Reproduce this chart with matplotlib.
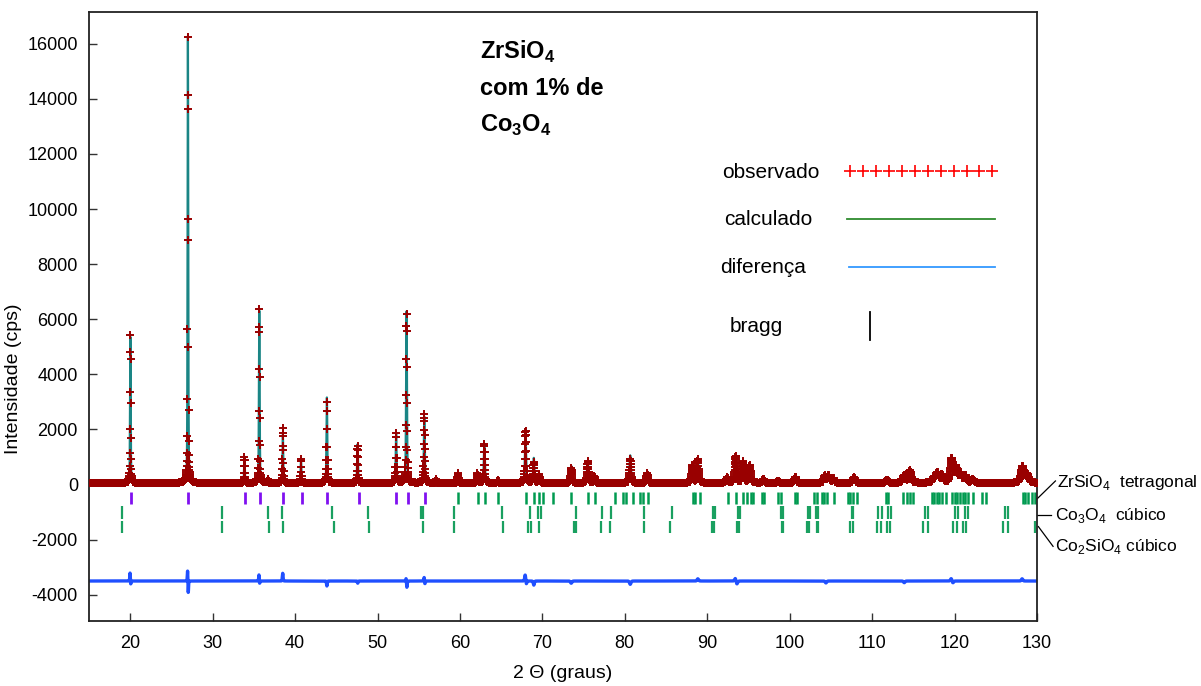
import numpy as np
import matplotlib.pyplot as plt

plt.rcParams['font.family'] = ['Liberation Sans', 'DejaVu Sans']
plt.rcParams['mathtext.fontset'] = 'custom'
plt.rcParams['mathtext.rm'] = 'Liberation Sans'
plt.rcParams['mathtext.bf'] = 'Liberation Sans:bold'
plt.rcParams['axes.unicode_minus'] = False

# picos do ajuste: posição (2θ), altura (cps), largura a meia altura (graus)
pico_pos = [20.02, 27.00, 33.86, 35.66, 36.70, 38.52, 40.72, 43.86, 47.58, 52.26,
            53.52, 55.68, 57.10, 59.76, 62.10, 62.96, 64.60, 67.96, 68.96, 69.60,
            73.50, 75.50, 76.30, 80.66, 82.70, 88.20, 88.86, 92.40, 93.46, 94.36,
            95.16, 96.80, 98.60, 100.70, 104.30, 104.70, 105.30, 107.80, 111.80, 113.90,
            114.60, 117.50, 117.90, 118.46, 119.66, 120.16, 120.70, 121.30, 122.20, 128.26,
            128.80]
pico_alt = [5300, 16220, 950, 6250, 150, 1750, 880, 3100, 1400, 1800,
            6220, 2400, 120, 350, 350, 1400, 120, 1750, 900, 300,
            620, 780, 250, 1000, 350, 620, 780, 200, 900, 760,
            650, 150, 80, 200, 280, 250, 150, 200, 120, 330,
            470, 200, 350, 300, 800, 550, 350, 250, 120, 520,
            300]
pico_fwhm = [0.09, 0.09, 0.10, 0.10, 0.12, 0.10, 0.11, 0.11, 0.12, 0.12,
             0.12, 0.13, 0.14, 0.15, 0.15, 0.15, 0.16, 0.17, 0.17, 0.18,
             0.19, 0.20, 0.20, 0.21, 0.22, 0.24, 0.24, 0.26, 0.26, 0.26,
             0.27, 0.28, 0.28, 0.30, 0.32, 0.32, 0.32, 0.33, 0.35, 0.36,
             0.36, 0.38, 0.38, 0.38, 0.38, 0.38, 0.40, 0.40, 0.40, 0.45,
             0.45]
fundo = 60

# diferenças observado - calculado
dif_pos = [19.98, 20.06, 26.96, 27.04, 35.62, 35.70, 38.50, 43.86, 47.60, 53.48,
           53.56, 55.66, 55.74, 67.92, 68.04, 68.96, 73.50, 80.66, 88.86, 93.40,
           93.60, 104.40, 113.90, 119.60, 119.80, 128.20]
dif_amp = [300, -130, 400, -450, 230, -100, 280, -180, -80, 120,
           -250, 150, -120, 240, -130, -150, -80, -120, 80, 100,
           -110, -70, -60, 90, -70, 80]
dif_fwhm = [0.08, 0.08, 0.08, 0.08, 0.08, 0.08, 0.10, 0.10, 0.10, 0.10,
            0.10, 0.10, 0.10, 0.15, 0.15, 0.15, 0.20, 0.20, 0.20, 0.20,
            0.20, 0.20, 0.20, 0.20, 0.20, 0.20]
dif_offset = -3500

# posições de Bragg das três fases
bragg_zrsio4 = [20.10, 27.05, 33.93, 35.71, 38.57, 40.81, 43.91, 47.72, 52.28, 53.66,
                55.73, 59.80, 62.16, 63.04, 64.66, 68.02, 68.99, 69.63, 70.04, 71.26,
                73.48, 75.50, 76.39, 78.81, 79.82, 80.11, 81.04, 81.85, 82.25, 82.78,
                88.24, 88.52, 89.13, 92.49, 93.49, 94.38, 94.79, 95.27, 95.51, 96.61,
                96.93, 98.63, 98.95, 100.65, 100.86, 102.99, 103.28, 103.89, 104.21, 104.50,
                105.42, 107.05, 107.32, 107.72, 108.13, 111.69, 111.97, 113.79, 114.20, 114.60,
                115.00, 117.23, 117.51, 117.84, 118.16, 118.45, 118.97, 119.66, 120.06, 120.34,
                120.67, 120.99, 121.27, 121.68, 122.28, 123.30, 123.82, 128.27, 128.55, 128.95,
                129.37, 129.76]
bragg_co3o4 = [18.97, 31.17, 36.68, 38.45, 44.52, 48.81, 55.28, 55.56, 59.32, 65.07,
               68.50, 69.51, 69.80, 74.05, 77.20, 78.29, 82.37, 85.69, 90.66, 90.95,
               93.77, 93.98, 98.95, 99.23, 102.19, 102.47, 103.20, 103.48, 107.53, 107.72,
               110.76, 111.17, 111.97, 112.26, 116.42, 116.83, 120.06, 120.46, 121.27, 121.68,
               126.13, 126.53]
bragg_co2sio4 = [18.97, 31.17, 36.84, 38.50, 44.76, 49.01, 55.49, 59.32, 65.19, 68.30,
                 68.59, 69.63, 73.84, 74.08, 77.08, 78.21, 82.37, 85.48, 90.54, 90.86,
                 93.58, 93.89, 99.04, 99.23, 102.07, 102.39, 103.28, 103.48, 107.32, 107.65,
                 110.56, 111.05, 111.78, 112.18, 116.22, 116.75, 119.86, 120.27, 121.07, 121.40,
                 125.92, 126.46, 129.76]


def pseudo_voigt(x, pos, alt, fwhm, eta=0.5):
    d = (x - pos) / fwhm
    g = np.exp(-4 * np.log(2) * d ** 2)
    l = 1 / (1 + 4 * d ** 2)
    return alt * (eta * l + (1 - eta) * g)


tt = np.arange(15, 130.001, 0.02)
calc = np.full_like(tt, fundo, dtype=float)
for p, a, w in zip(pico_pos, pico_alt, pico_fwhm):
    calc += pseudo_voigt(tt, p, a, w)
dif = np.zeros_like(tt)
for p, a, w in zip(dif_pos, dif_amp, dif_fwhm):
    dif += pseudo_voigt(tt, p, a, w, eta=0.2)
obs = calc + dif

fig = plt.figure(figsize=(12.01, 6.86), dpi=100)
ax = fig.add_axes([0.0741, 0.0948, 0.7893, 0.8877])

ax.plot(tt, calc, color='#1a8585', lw=1.6, zorder=2)
ax.plot(tt, obs, ls='none', marker='+', ms=5.5, mew=1.4, color='#990000', zorder=3)
ax.plot(tt, dif + dif_offset, color='#1f4fff', lw=2.4, zorder=2)

# marcas de Bragg
b1 = np.array(bragg_zrsio4)
ax.vlines(b1[b1 < 57], -280, -720, color='#8010f0', lw=2)
ax.vlines(b1[b1 >= 57], -280, -720, color='#009a50', lw=1.8)
ax.vlines(bragg_co3o4, -790, -1240, color='#1aa060', lw=1.6)
ax.vlines(bragg_co2sio4, -1330, -1760, color='#1aa060', lw=1.6)

ax.set_xlim(15, 130)
ax.set_ylim(-4950, 17150)
ax.set_xticks(np.arange(20, 131, 10))
ax.set_yticks(np.arange(-4000, 16001, 2000))
ax.tick_params(direction='in', length=6, width=1, labelsize=13, color='#333333')
ax.tick_params(axis='x', pad=10)
ax.tick_params(axis='y', pad=8)
for s in ax.spines.values():
    s.set_linewidth(1.3)
    s.set_color('#222222')

ax.set_ylabel('Intensidade (cps)', fontsize=14)
ax.yaxis.set_label_coords(-0.071, 0.397)
ax.set_xlabel('2 Θ (graus)', fontsize=14)
ax.xaxis.set_label_coords(0.5, -0.073)

# título da amostra
ax.text(0.412, 0.934, r'ZrSiO$_\mathbf{4}$', transform=ax.transAxes, fontsize=17,
        fontweight='bold', va='center')
ax.text(0.412, 0.875, 'com 1% de', transform=ax.transAxes, fontsize=17,
        fontweight='bold', va='center')
ax.text(0.412, 0.814, r'Co$_\mathbf{3}$O$_\mathbf{4}$', transform=ax.transAxes, fontsize=17,
        fontweight='bold', va='center')

# legenda
ax.text(0.668, 0.737, 'observado', transform=ax.transAxes, fontsize=15, va='center')
ax.text(0.670, 0.660, 'calculado', transform=ax.transAxes, fontsize=15, va='center')
ax.text(0.666, 0.581, 'diferença', transform=ax.transAxes, fontsize=15, va='center')
ax.text(0.676, 0.484, 'bragg', transform=ax.transAxes, fontsize=15, va='center')
ax.plot(np.linspace(0.803, 0.953, 12), [0.739] * 12, ls='none', marker='+', ms=8, mew=1.2,
        color='#ff0000', transform=ax.transAxes)
ax.plot([0.800, 0.956], [0.660, 0.660], color='#2e8b2e', lw=1.3, transform=ax.transAxes)
ax.plot([0.802, 0.956], [0.581, 0.581], color='#3399ff', lw=1.3, transform=ax.transAxes)
ax.plot([0.824, 0.824], [0.461, 0.507], color='black', lw=1.3, transform=ax.transAxes)

# nomes das fases à direita
ax.plot([1.0, 1.0195], [0.2003, 0.2299], color='black', lw=0.9, transform=ax.transAxes, clip_on=False)
ax.plot([1.0, 1.0148], [0.174, 0.174], color='black', lw=0.9, transform=ax.transAxes, clip_on=False)
ax.plot([1.0015, 1.017], [0.155, 0.1225], color='black', lw=0.9, transform=ax.transAxes, clip_on=False)
ax.text(1.021, 0.2266, r'ZrSiO$_4$  tetragonal', transform=ax.transAxes, fontsize=12.5, va='center')
ax.text(1.019, 0.174, r'Co$_3$O$_4$  cúbico', transform=ax.transAxes, fontsize=12.5, va='center')
ax.text(1.019, 0.1215, r'Co$_2$SiO$_4$ cúbico', transform=ax.transAxes, fontsize=12.5, va='center')

fig.savefig('out.png', dpi=100)
